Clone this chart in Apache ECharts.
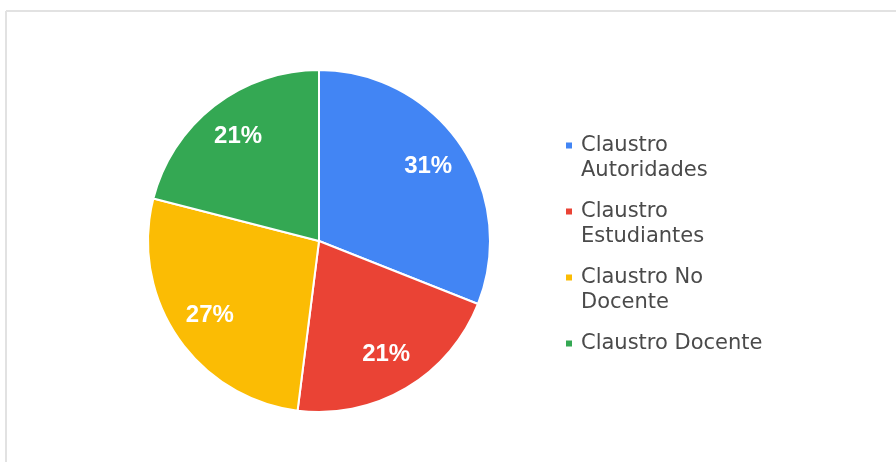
<!DOCTYPE html>
<html>
<head>
<meta charset="utf-8">
<script src="https://cdn.jsdelivr.net/npm/echarts@6/dist/echarts.min.js"></script>
<style>
html,body{margin:0;padding:0;background:#fff;}
#c{width:896px;height:462px;}
</style>
</head>
<body>
<div id="c"></div>
<script>
const categories = ['Claustro Autoridades', 'Claustro Estudiantes', 'Claustro No Docente', 'Claustro Docente'];
const legendLabels = ['Claustro\nAutoridades', 'Claustro\nEstudiantes', 'Claustro No\nDocente', 'Claustro Docente\n'];
const values = [31, 21, 27, 21];
const colors = ['#4285F4', '#EA4335', '#FBBC04', '#34A853'];

const chart = echarts.init(document.getElementById('c'), null, {renderer: 'canvas'});
const data = categories.map((n, i) => ({name: n, value: values[i], itemStyle: {color: colors[i]}}));
const labelData = categories.map((n, i) => ({name: n, value: values[i]}));
const legendIcon = 'path://M0,0h0.01v0.01h-0.01z M0,9.5h6v6h-6z M0,49.99h0.01v0.01h-0.01z';

chart.setOption({
  animation: false,
  graphic: [
    {type: 'line', shape: {x1: 6, y1: 11, x2: 896, y2: 11}, style: {stroke: '#e2e2e2', lineWidth: 2}, silent: true},
    {type: 'line', shape: {x1: 6, y1: 11, x2: 6, y2: 462}, style: {stroke: '#e2e2e2', lineWidth: 2}, silent: true}
  ],
  legend: {
    orient: 'vertical',
    left: 561,
    top: 128,
    icon: legendIcon,
    itemWidth: 6,
    itemHeight: 50,
    itemGap: 16,
    itemStyle: {borderWidth: 0},
    data: categories.map((n, i) => ({name: n, itemStyle: {color: colors[i], borderWidth: 0}})),
    formatter: name => legendLabels[categories.indexOf(name)],
    textStyle: {fontFamily: 'DejaVu Sans, sans-serif', fontSize: 21, color: '#4a4a4a', lineHeight: 25, padding: [0, 0, 0, 4]}
  },
  series: [
    {
      type: 'pie',
      center: [319, 241],
      radius: [0, 171],
      startAngle: 90,
      clockwise: true,
      data: data,
      label: {show: false},
      labelLine: {show: false},
      itemStyle: {borderColor: '#fff', borderWidth: 2},
      emphasis: {disabled: true}
    },
    {
      type: 'pie',
      center: [319, 241],
      radius: [0, 258],
      startAngle: 90,
      clockwise: true,
      silent: true,
      data: labelData,
      itemStyle: {color: 'rgba(0,0,0,0)', borderWidth: 0},
      label: {
        show: true,
        position: 'inside',
        formatter: p => Math.round(p.percent) + '%',
        color: '#fff',
        fontWeight: 'bold',
        fontSize: 24,
        fontFamily: 'Liberation Sans, Arial, sans-serif'
      },
      labelLine: {show: false},
      emphasis: {disabled: true}
    }
  ]
});
</script>
</body>
</html>
